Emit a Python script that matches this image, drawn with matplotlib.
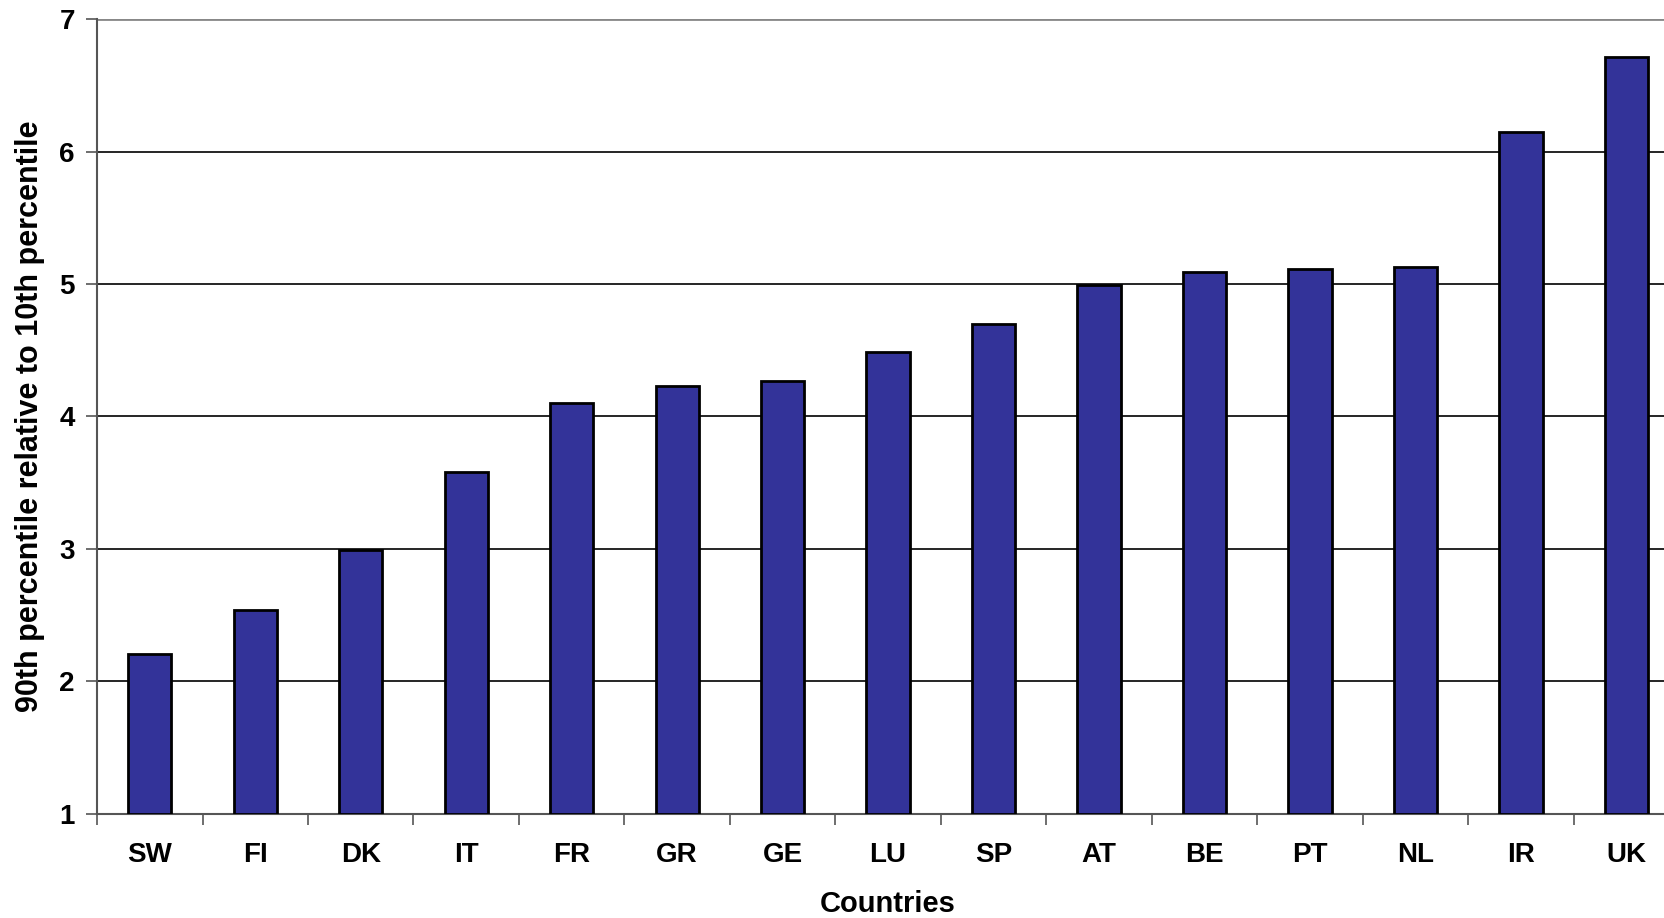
import matplotlib.pyplot as plt
import numpy as np

countries = ["SW", "FI", "DK", "IT", "FR", "GR", "GE", "LU", "SP", "AT", "BE", "PT", "NL", "IR", "UK"]
ratios = [2.21, 2.54, 2.99, 3.58, 4.10, 4.23, 4.27, 4.49, 4.70, 4.99, 5.09, 5.11, 5.13, 6.15, 6.71]

plt.rcParams['font.family'] = ['Liberation Sans', 'DejaVu Sans']
plt.rcParams['font.weight'] = 'bold'

fig = plt.figure(figsize=(16.65, 9.18), dpi=100)
ax = fig.add_axes([0.0583, 0.1133, 0.9502, 0.866])

x = np.arange(len(countries))
base = 1
ax.bar(x, [v - base for v in ratios], bottom=base, width=0.41,
       color="#333399", edgecolor="black", linewidth=2, zorder=3)

ax.set_xlim(-0.5, len(countries) - 0.5)
ax.set_ylim(1, 7)
ax.set_yticks(range(1, 8))
ax.yaxis.grid(True, color="black", linewidth=1.2, zorder=0)

ax.set_xticks(x)
ax.set_xticklabels(countries, fontsize=20, fontweight='bold')
ax.set_xticks(np.arange(-0.5, len(countries)), minor=True)
ax.tick_params(axis='x', which='major', length=0, pad=20)
ax.tick_params(axis='x', which='minor', length=8, width=1.2, color="#555555")
ax.tick_params(axis='y', length=8, width=1.2, color="#555555", labelsize=20, pad=8)
for lab in ax.get_yticklabels():
    lab.set_fontweight('bold')

for s in ['top', 'right']:
    ax.spines[s].set_visible(False)
for s in ['left', 'bottom']:
    ax.spines[s].set_color("#555555")
    ax.spines[s].set_linewidth(1.5)
ax.get_ygridlines()[-1].set_color("#888888")
ax.get_ygridlines()[-1].set_linewidth(2)

ax.set_xlabel("Countries", fontsize=21, fontweight='bold')
ax.xaxis.set_label_coords(0.5, -0.095)
ax.set_ylabel("90th percentile relative to 10th percentile", fontsize=22, fontweight='bold')
ax.yaxis.set_label_coords(-0.033, 0.5)

fig.savefig("out.png", dpi=100)
